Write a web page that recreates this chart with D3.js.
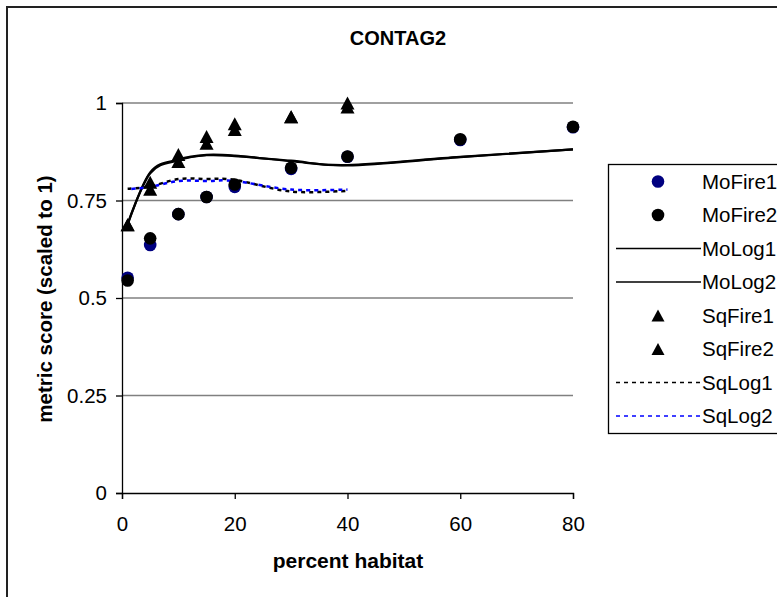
<!DOCTYPE html>
<html>
<head>
<meta charset="utf-8">
<script src="https://cdn.jsdelivr.net/npm/d3@7/dist/d3.min.js"></script>
<style>
  html, body { margin: 0; padding: 0; background: #fff; overflow: hidden; }
  svg { display: block; font-family: "Liberation Sans", Arial, sans-serif; }
</style>
</head>
<body>
<svg id="chart" width="777" height="597"></svg>
<script>
// percent habitat sampled for each series
const habitat = [1, 5, 10, 15, 20, 30, 40, 60, 80];
const habitatSq = [1, 5, 10, 15, 20, 30, 40];

// metric scores (scaled to 1)
const moFire1 = [0.552, 0.636, 0.715, 0.759, 0.785, 0.831, 0.862, 0.905, 0.938];
const moFire2 = [0.545, 0.653, 0.715, 0.759, 0.791, 0.834, 0.863, 0.907, 0.939];
const moLog1  = [0.690, 0.820, 0.853, 0.866, 0.864, 0.852, 0.840, 0.861, 0.881];
const moLog2  = [0.688, 0.822, 0.855, 0.867, 0.865, 0.851, 0.841, 0.862, 0.881];
const sqFire1 = [0.688, 0.779, 0.850, 0.897, 0.932, 0.965, 0.990];
const sqFire2 = [0.688, 0.797, 0.868, 0.914, 0.947, 0.965, 1.000];
const sqLog1  = [0.780, 0.786, 0.805, 0.805, 0.803, 0.773, 0.775];
const sqLog2  = [0.779, 0.785, 0.800, 0.800, 0.800, 0.778, 0.778];

const xTicks = [0, 20, 40, 60, 80];
const yTicks = [0, 0.25, 0.5, 0.75, 1];
const legendNames = ["MoFire1", "MoFire2", "MoLog1", "MoLog2", "SqFire1", "SqFire2", "SqLog1", "SqLog2"];

const FONT = "20.5px";
const svg = d3.select("#chart");

// chart frame (runs past the right and bottom edges)
svg.append("rect")
  .attr("x", 7).attr("y", 7).attr("width", 830).attr("height", 650)
  .attr("fill", "#fff").attr("stroke", "#222").attr("stroke-width", 2);

const plot = { left: 122, right: 573, top: 103, bottom: 493 };
const x = d3.scaleLinear().domain([0, 80]).range([plot.left, plot.right]);
const y = d3.scaleLinear().domain([0, 1]).range([plot.bottom, plot.top]);

// horizontal gridlines
svg.append("g")
  .selectAll("line")
  .data(yTicks.filter(t => t > 0))
  .join("line")
  .attr("x1", plot.left).attr("x2", plot.right)
  .attr("y1", d => y(d)).attr("y2", d => y(d))
  .attr("stroke", "#808080").attr("stroke-width", 1.3);

// axes
const xAxis = svg.append("g")
  .attr("transform", `translate(0,${plot.bottom})`)
  .call(d3.axisBottom(x).tickValues(xTicks).tickSize(6).tickPadding(17).tickFormat(d3.format("d")));
const yAxis = svg.append("g")
  .attr("transform", `translate(${plot.left},0)`)
  .call(d3.axisLeft(y).tickValues(yTicks).tickSize(6).tickPadding(9).tickFormat(d => String(d)));
[xAxis, yAxis].forEach(a => {
  a.select(".domain").attr("stroke", "#000").attr("stroke-width", 1.3);
  a.selectAll(".tick line").attr("stroke", "#000").attr("stroke-width", 1.3);
  a.selectAll(".tick text")
    .attr("fill", "#000")
    .style("font-size", FONT)
    .style("font-family", "'Liberation Sans', Arial, sans-serif");
});

// titles
svg.append("text")
  .attr("x", 398).attr("y", 45)
  .attr("text-anchor", "middle")
  .style("font-size", "20px").style("font-weight", "bold")
  .text("CONTAG2");
svg.append("text")
  .attr("x", 348).attr("y", 568)
  .attr("text-anchor", "middle")
  .style("font-size", "21px").style("font-weight", "bold")
  .text("percent habitat");
svg.append("text")
  .attr("transform", "translate(52,299) rotate(-90)")
  .attr("text-anchor", "middle")
  .style("font-size", "20.5px").style("font-weight", "bold")
  .text("metric score (scaled to 1)");

// smoothed fit lines
const line = xs => d3.line()
  .x((d, i) => x(xs[i]))
  .y(d => y(d))
  .curve(d3.curveCardinal.tension(0));

const lines = svg.append("g").attr("fill", "none");
lines.append("path").datum(moLog1).attr("d", line(habitat))
  .attr("stroke", "#000").attr("stroke-width", 2.2);
lines.append("path").datum(moLog2).attr("d", line(habitat))
  .attr("stroke", "#000").attr("stroke-width", 2.2);
lines.append("path").datum(sqLog1).attr("d", line(habitatSq))
  .attr("stroke", "#000").attr("stroke-width", 2.5).attr("stroke-dasharray", "4,4");
lines.append("path").datum(sqLog2).attr("d", line(habitatSq))
  .attr("stroke", "#0000ff").attr("stroke-width", 2.5).attr("stroke-dasharray", "4,4").attr("stroke-dashoffset", 4);

// markers
function triPath(w, h) {
  return `M0,${-h / 2}L${w / 2},${h / 2}L${-w / 2},${h / 2}Z`;
}
function triangles(vals, xs) {
  svg.append("g").selectAll("path")
    .data(vals)
    .join("path")
    .attr("d", triPath(14, 13))
    .attr("transform", (d, i) => `translate(${x(xs[i])},${y(d)})`)
    .attr("fill", "#000");
}
function circles(vals, xs, color) {
  svg.append("g").selectAll("circle")
    .data(vals)
    .join("circle")
    .attr("cx", (d, i) => x(xs[i]))
    .attr("cy", d => y(d))
    .attr("r", 6.3)
    .attr("fill", color);
}
triangles(sqFire1, habitatSq);
triangles(sqFire2, habitatSq);
circles(moFire1, habitat, "#000080");
circles(moFire2, habitat, "#000");

// legend (box runs past the right edge)
const lg = { left: 608, top: 164, width: 200, height: 269 };
svg.append("rect")
  .attr("x", lg.left + 0.5).attr("y", lg.top + 0.5)
  .attr("width", lg.width).attr("height", lg.height)
  .attr("fill", "#fff").attr("stroke", "#000").attr("stroke-width", 1.3);
const rowY = d3.scalePoint().domain(legendNames).range([lg.top + 17.5, lg.top + 252]);
const keyX1 = 616, keyX2 = 701, keyMid = 658;
const legendRows = svg.append("g").selectAll("g").data(legendNames).join("g")
  .attr("transform", d => `translate(0,${rowY(d)})`);
legendRows.append("text")
  .attr("x", keyX2 + 1).attr("y", 7)
  .style("font-size", FONT)
  .text(d => d);
legendRows.each(function (d) {
  const g = d3.select(this);
  if (d === "MoFire1" || d === "MoFire2") {
    g.append("circle").attr("cx", keyMid).attr("cy", 0).attr("r", 6.3)
      .attr("fill", d === "MoFire1" ? "#000080" : "#000");
  } else if (d === "SqFire1" || d === "SqFire2") {
    g.append("path").attr("d", triPath(13, 12))
      .attr("transform", `translate(${keyMid},0)`).attr("fill", "#000");
  } else {
    const dashed = d === "SqLog1" || d === "SqLog2";
    g.append("line")
      .attr("x1", keyX1).attr("x2", keyX2).attr("y1", 0).attr("y2", 0)
      .attr("stroke", d === "SqLog2" ? "#0000ff" : "#000")
      .attr("stroke-width", 1.5)
      .attr("stroke-dasharray", dashed ? "4,4" : null);
  }
});
</script>
</body>
</html>
